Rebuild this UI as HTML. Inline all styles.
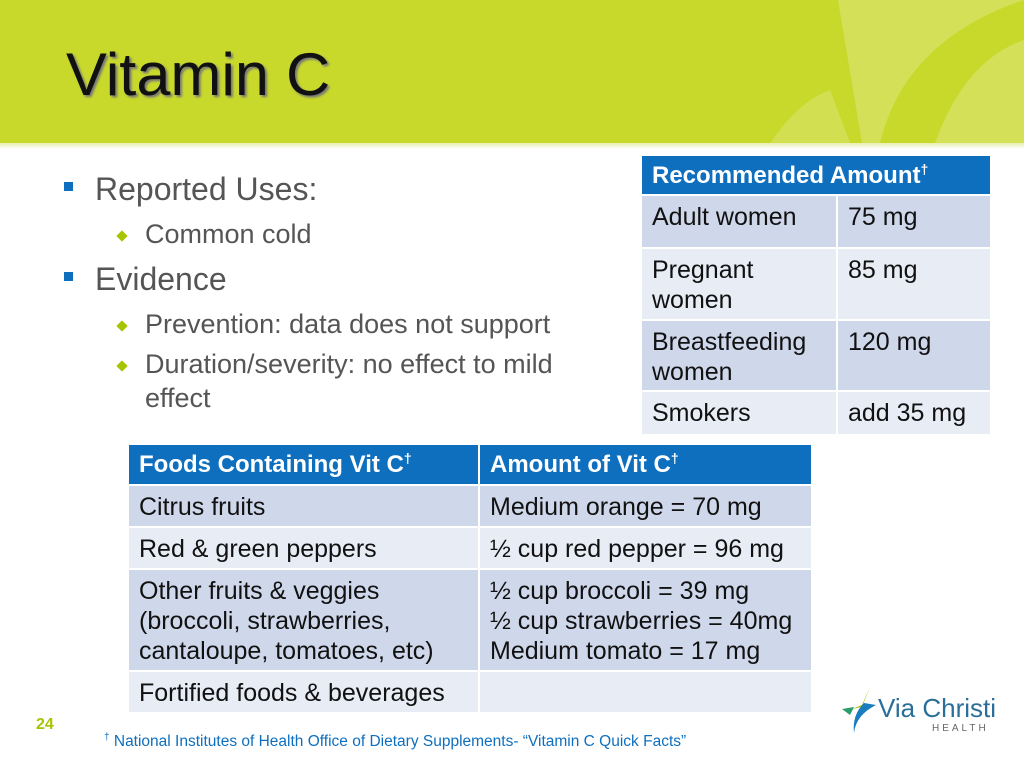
<!DOCTYPE html>
<html><head><meta charset="utf-8"><style>
body{margin:0;width:1024px;height:768px;position:relative;overflow:hidden;background:#fff;font-family:"Liberation Sans",Arial,sans-serif;}
.a{position:absolute;white-space:nowrap;}
table{border-collapse:collapse;position:absolute;font-size:25px;color:#111;table-layout:fixed;}
td{padding:0 10px;vertical-align:top;border:2px solid #fff;line-height:30px;white-space:nowrap;overflow:hidden;}
th{background:#0e6fbf;color:#fff;text-align:left;font-weight:bold;padding:0 10px;border:2px solid #fff;font-size:24px;white-space:nowrap;}
.d td{background:#cfd8eb}.l td{background:#e8ecf5}
.sq{position:absolute;width:9px;height:9px;background:#0e6fbf}
.dm{position:absolute;width:8px;height:8px;background:#a8c400;transform:rotate(45deg)}
</style></head><body>
<div class="a" style="left:0;top:0;width:1024px;height:143px;background:#c8d92c;overflow:hidden">
<svg width="1024" height="143"><path d="M838 0 L862 143 L880 143 Q905 40 1024 0Z" fill="#d7e36b" opacity=".7"/><path d="M770 143 Q800 100 830 90 L850 143Z" fill="#d7e36b" opacity=".6"/><path d="M935 143 Q965 60 1024 40 L1024 143Z" fill="#d7e36b" opacity=".7"/></svg>
</div>
<div class="a" style="left:0;top:143px;width:1024px;height:6px;background:linear-gradient(#e7eeb0,#fff)"></div>
<div class="a" style="left:66px;top:40px;font-size:60px;color:#111;text-shadow:2px 2px 2px #777;transform:scaleX(1.02);transform-origin:left">Vitamin C</div>
<div style="position:absolute;left:0;top:0;color:#555;">
<div class="sq" style="left:64px;top:182px"></div>
<div class="a" style="left:95px;top:171px;font-size:32px">Reported Uses:</div>
<div class="dm" style="left:118px;top:232px"></div>
<div class="a" style="left:145px;top:219px;font-size:27px">Common cold</div>
<div class="sq" style="left:64px;top:272px"></div>
<div class="a" style="left:95px;top:261px;font-size:32px">Evidence</div>
<div class="dm" style="left:118px;top:322px"></div>
<div class="a" style="left:145px;top:309px;font-size:27px">Prevention: data does not support</div>
<div class="dm" style="left:118px;top:362px"></div>
<div class="a" style="left:145px;top:349px;font-size:27px">Duration/severity: no effect to mild</div>
<div class="a" style="left:145px;top:383px;font-size:27px">effect</div>
</div>
<table style="left:640px;top:154px;width:350px">
<colgroup><col style="width:196px"><col style="width:154px"></colgroup>
<tr style="height:40px"><th colspan="2">Recommended Amount<sup style="font-size:14px">†</sup></th></tr>
<tr class="d" style="height:53px"><td style="padding-top:6px">Adult women</td><td style="padding-top:6px">75 mg</td></tr>
<tr class="l" style="height:72px"><td style="padding-top:6px">Pregnant<br>women</td><td style="padding-top:6px">85 mg</td></tr>
<tr class="d" style="height:71px"><td style="padding-top:6px">Breastfeeding<br>women</td><td style="padding-top:6px">120 mg</td></tr>
<tr class="l" style="height:44px"><td style="padding-top:6px">Smokers</td><td style="padding-top:6px">add 35 mg</td></tr>
</table>
<table style="left:127px;top:443px;width:684px">
<colgroup><col style="width:351px"><col style="width:333px"></colgroup>
<tr style="height:41px"><th>Foods Containing Vit C<sup style="font-size:14px">†</sup></th><th>Amount of Vit C<sup style="font-size:14px">†</sup></th></tr>
<tr class="d" style="height:42px"><td style="padding-top:6px">Citrus fruits</td><td style="padding-top:6px">Medium orange = 70 mg</td></tr>
<tr class="l" style="height:42px"><td style="padding-top:6px">Red &amp; green peppers</td><td style="padding-top:6px">½ cup red pepper = 96 mg</td></tr>
<tr class="d" style="height:102px"><td style="padding-top:6px">Other fruits &amp; veggies<br>(broccoli, strawberries,<br>cantaloupe, tomatoes, etc)</td><td style="padding-top:6px">½ cup broccoli = 39 mg<br>½ cup strawberries = 40mg<br>Medium tomato = 17 mg</td></tr>
<tr class="l" style="height:42px"><td style="padding-top:6px">Fortified foods &amp; beverages</td><td></td></tr>
</table>
<div class="a" style="left:36px;top:716px;font-size:16px;font-weight:bold;color:#a8c400">24</div>
<div class="a" style="left:104px;top:732px;font-size:15.5px;color:#0e6fbf"><sup style="font-size:10px">†</sup> National Institutes of Health Office of Dietary Supplements- “Vitamin C Quick Facts”</div>
<div class="a" style="left:840px;top:685px;width:150px;height:50px">
<svg width="40" height="50" class="a" style="left:0;top:0"><path d="M30 2 L22 20 L12 24 L22 22 Z" fill="#a8c400"/><path d="M24 18 Q12 30 14 48 Q16 30 36 20Z" fill="#1a7dc0"/><path d="M2 24 L14 22 L10 30Z" fill="#2a9d6a"/></svg>
<div class="a" style="left:38px;top:8px;font-size:26px;color:#2a6f9a">Via Christi</div>
<div class="a" style="left:92px;top:38px;font-size:10px;letter-spacing:3px;color:#666">HEALTH</div>
</div>
</body></html>
